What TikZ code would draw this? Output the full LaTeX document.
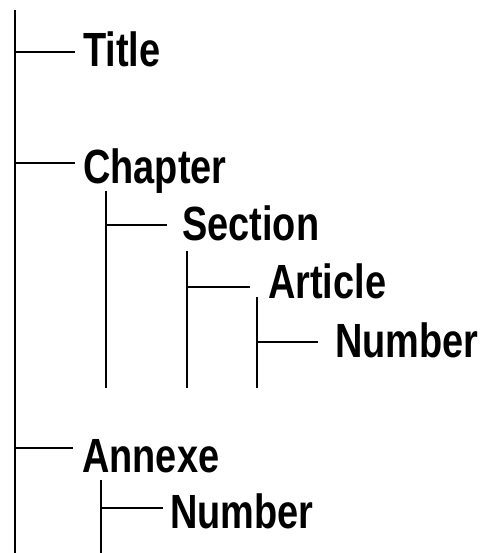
\documentclass[tikz,border=0pt]{standalone}
\usepackage{fontspec}
\setmainfont{Liberation Sans}[FakeStretch=0.79]
\begin{document}
\begin{tikzpicture}[x=1pt,y=-1pt,
  lbl/.style={anchor=base west,inner sep=0pt,font=\fontsize{48}{50}\selectfont\bfseries},
  ln/.style={line width=1.8pt,line cap=butt}]
\useasboundingbox (0,0) rectangle (489,553);
% trunk
\coordinate (t0) at (15,10);
\coordinate (t1) at (15,553);
\coordinate (tTitle) at (15,52);
\coordinate (tChap) at (15,163);
\coordinate (tAnn) at (15,448);
\coordinate (eTitle) at (75,52);
\coordinate (eChap) at (75,163);
\coordinate (eAnn) at (73,448);
% chapter sub
\coordinate (c0) at (106,191);
\coordinate (c1) at (106,388);
\coordinate (cSec) at (106,225);
\coordinate (eSec) at (167,225);
\coordinate (s0) at (187,251);
\coordinate (s1) at (187,388);
\coordinate (sArt) at (187,287);
\coordinate (eArt) at (250,287);
\coordinate (a0) at (257,297);
\coordinate (a1) at (257,388);
\coordinate (aNum) at (257,342);
\coordinate (eNum) at (318,342);
% annexe sub
\coordinate (n0) at (101,480);
\coordinate (n1) at (101,553);
\coordinate (nNum) at (101,508);
\coordinate (eNum2) at (163,508);
% labels
\node[lbl] (title) at (83,67) {Title};
\node[lbl] (chapter) at (83,183) {Chapter};
\node[lbl] (section) at (182,240) {Section};
\node[lbl] (article) at (268,298) {Article};
\node[lbl] (number) at (335,357) {Number};
\node[lbl] (annexe) at (82,472) {Annexe};
\node[lbl] (number2) at (170,528) {Number};
% lines
\draw[ln] (t0) -- (t1);
\draw[ln] (tTitle) -- (eTitle);
\draw[ln] (tChap) -- (eChap);
\draw[ln] (tAnn) -- (eAnn);
\draw[ln] (c0) -- (c1);
\draw[ln] (cSec) -- (eSec);
\draw[ln] (s0) -- (s1);
\draw[ln] (sArt) -- (eArt);
\draw[ln] (a0) -- (a1);
\draw[ln] (aNum) -- (eNum);
\draw[ln] (n0) -- (n1);
\draw[ln] (nNum) -- (eNum2);
\end{tikzpicture}
\end{document}
